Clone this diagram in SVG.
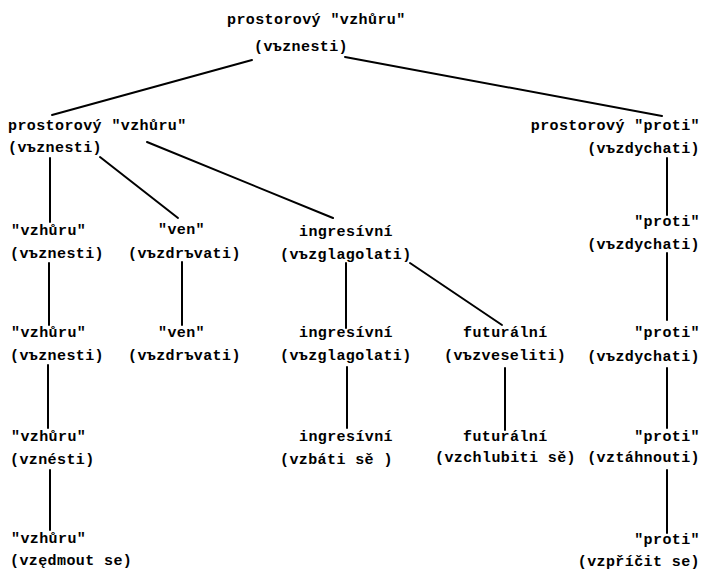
<svg xmlns="http://www.w3.org/2000/svg" width="701" height="574" viewBox="0 0 701 574">
<style>
text{font-family:"Liberation Mono","DejaVu Sans Mono",monospace;font-size:15px;font-weight:bold;letter-spacing:0.4px;fill:#000}
.r text{text-anchor:end}
.c line{stroke:#000;stroke-width:2;stroke-linecap:round}
</style>
<rect width="701" height="574" fill="#fff"/>
<g class="c" id="connectors">
<line x1="252" y1="60" x2="52" y2="115"/>
<line x1="345" y1="57" x2="662" y2="116"/>
<line x1="50" y1="158" x2="50" y2="222"/>
<line x1="100" y1="157" x2="178" y2="218"/>
<line x1="147" y1="142" x2="333" y2="218"/>
<line x1="667" y1="158" x2="667" y2="215"/>
<line x1="49" y1="263" x2="49" y2="325"/>
<line x1="182" y1="262" x2="182" y2="325"/>
<line x1="346" y1="263" x2="346" y2="328"/>
<line x1="410" y1="263" x2="502" y2="325"/>
<line x1="667" y1="253" x2="667" y2="320"/>
<line x1="48" y1="365" x2="48" y2="428"/>
<line x1="347" y1="367" x2="347" y2="428"/>
<line x1="505" y1="368" x2="505" y2="430"/>
<line x1="667" y1="368" x2="667" y2="428"/>
<line x1="50" y1="470" x2="50" y2="530"/>
<line x1="667" y1="470" x2="667" y2="533"/>
</g>
<g id="n0"><text x="227" y="24">prostorový "vzhůru"</text><text x="254" y="51">(vъznesti)</text></g>
<g id="n1"><text x="8" y="130">prostorový "vzhůru"</text><text x="8" y="152">(vъznesti)</text></g>
<g id="n2" class="r"><text x="700" y="130">prostorový "proti"</text><text x="700" y="153">(vъzdychati)</text></g>
<g id="n3"><text x="11" y="235">"vzhůru"</text><text x="10" y="258">(vъznesti)</text></g>
<g id="n4"><text x="158" y="234">"ven"</text><text x="128" y="258">(vъzdrъvati)</text></g>
<g id="n5"><text x="299" y="236">ingresívní</text><text x="280" y="259">(vъzglagolati)</text></g>
<g id="n6" class="r"><text x="700" y="226">"proti"</text><text x="700" y="249">(vъzdychati)</text></g>
<g id="n7"><text x="11" y="337">"vzhůru"</text><text x="10" y="360">(vъznesti)</text></g>
<g id="n8"><text x="158" y="337">"ven"</text><text x="128" y="360">(vъzdrъvati)</text></g>
<g id="n9"><text x="299" y="337">ingresívní</text><text x="280" y="360">(vъzglagolati)</text></g>
<g id="n10"><text x="463" y="337">futurální</text><text x="444" y="360">(vъzveseliti)</text></g>
<g id="n11" class="r"><text x="700" y="337">"proti"</text><text x="700" y="361">(vъzdychati)</text></g>
<g id="n12"><text x="11" y="441">"vzhůru"</text><text x="10" y="464">(vznésti)</text></g>
<g id="n13"><text x="299" y="441">ingresívní</text><text x="280" y="464">(vzbáti sě )</text></g>
<g id="n14"><text x="463" y="441">futurální</text><text x="435" y="462">(vzchlubiti sě)</text></g>
<g id="n15" class="r"><text x="700" y="441">"proti"</text><text x="700" y="462">(vztáhnouti)</text></g>
<g id="n16"><text x="11" y="543">"vzhůru"</text><text x="10" y="565">(vzędmout se)</text></g>
<g id="n17" class="r"><text x="700" y="544">"proti"</text><text x="700" y="566">(vzpříčit se)</text></g>
</svg>
